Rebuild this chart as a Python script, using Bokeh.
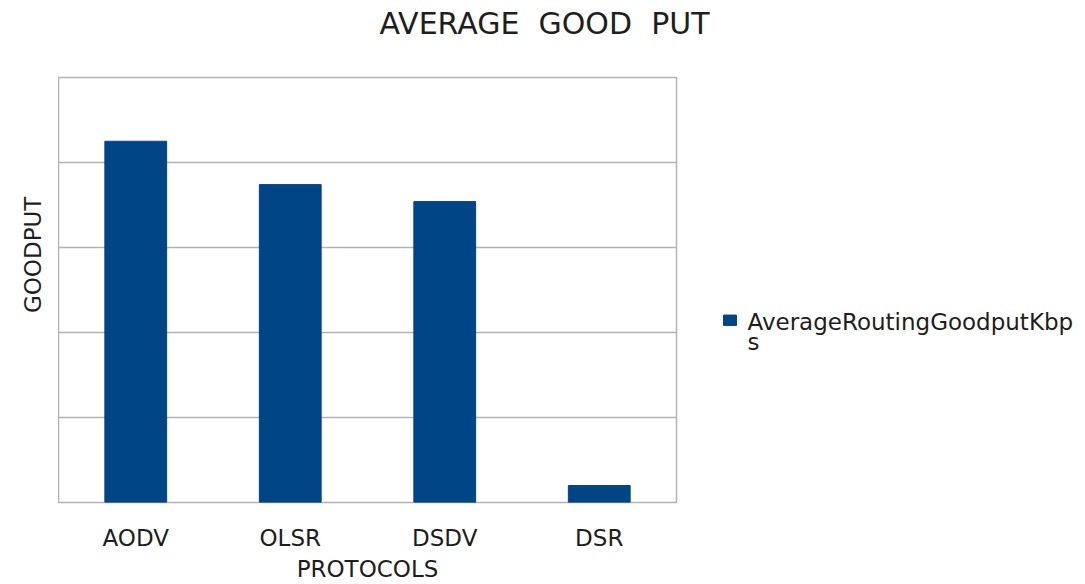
import math

from bokeh.plotting import figure
from bokeh.layouts import row, column
from bokeh.models import ColumnDataSource, FixedTicker, Range1d
from bokeh.core.properties import value
from bokeh.embed import file_html
from bokeh.resources import INLINE

# Average goodput per routing protocol
protocols = ["AODV", "OLSR", "DSDV", "DSR"]
goodput_kbps = [4.25, 3.74, 3.54, 0.20]
series_name = "AverageRoutingGoodputKbps"
chart_title = "AVERAGE\u00a0 GOOD\u00a0 PUT"
x_title = "PROTOCOLS"
y_title = "GOODPUT"
grid_ticks = [1, 2, 3, 4]

FONT = "DejaVu Sans"
TEXT = "#1e1e1e"
GRID = "#b3b3b3"
BAR = "#004586"

# page grid: header strip on top, then y-title strip | chart | legend strip
PAGE_W, PAGE_H = 1085, 584
HEAD_H = 50
BODY_H = PAGE_H - HEAD_H
YT_W = 58
CHART_W = 662
LEG_W = PAGE_W - YT_W - CHART_W

# text anchors inside the side strips (pixels, y growing upward)
TITLE_BASE_Y = 27
YTITLE_X, YTITLE_Y = 32, 238
SWATCH_Y = 229
LABEL_Y = [227, 202]


def blank(width, height):
    """An axis-free figure whose data units are pixels, y growing upward."""
    f = figure(width=width, height=height, title=None,
               x_range=Range1d(0, width), y_range=Range1d(0, height),
               x_axis_location=None, y_axis_location=None,
               output_backend="svg", toolbar_location=None, min_border=0,
               outline_line_color=None, background_fill_color="white",
               border_fill_color="white")
    f.grid.visible = False
    return f


# ---- main bar chart ----
src = ColumnDataSource(data=dict(protocol=protocols, goodput=goodput_kbps))

p = figure(
    x_range=protocols,
    y_range=Range1d(0, 5),
    width=CHART_W,
    height=BODY_H,
    title=None,
    output_backend="svg",
    toolbar_location=None,
    min_border_left=0,
    min_border_right=44,
    min_border_top=27,
    min_border_bottom=82,
    background_fill_color="white",
    border_fill_color="white",
)

p.vbar(x="protocol", top="goodput", width=0.4, source=src,
       fill_color=BAR, line_color=BAR)

p.outline_line_color = GRID
p.outline_line_width = 1.5
p.xgrid.grid_line_color = None
p.yaxis.visible = False
p.ygrid.ticker = FixedTicker(ticks=grid_ticks)
p.ygrid.grid_line_color = GRID
p.ygrid.grid_line_width = 1.5

xa = p.xaxis[0]
xa.axis_line_color = None
xa.major_tick_line_color = None
xa.minor_tick_line_color = None
xa.major_tick_out = 0
xa.major_tick_in = 0
xa.major_label_standoff = 22
xa.major_label_text_font = FONT
xa.major_label_text_font_size = "23px"
xa.major_label_text_color = TEXT
xa.axis_label = x_title
xa.axis_label_text_font = FONT
xa.axis_label_text_font_size = "23px"
xa.axis_label_text_font_style = "normal"
xa.axis_label_text_color = TEXT
xa.axis_label_standoff = 2

# ---- header with the chart title ----
head = blank(PAGE_W, HEAD_H)
head.text(x=[379], y=[TITLE_BASE_Y], text=[chart_title],
          text_align="left", text_baseline="alphabetic",
          text_font=value(FONT), text_font_size="30px", text_color=TEXT)

# ---- rotated value-axis title ----
ytf = blank(YT_W, BODY_H)
ytf.text(x=[YTITLE_X], y=[YTITLE_Y], text=[y_title], angle=math.pi / 2,
         text_align="left", text_baseline="alphabetic",
         text_font=value(FONT), text_font_size="23px", text_color=TEXT)

# ---- legend ----
leg = blank(LEG_W, BODY_H)
leg_x0 = PAGE_W - LEG_W
leg.rect(x=[723 - leg_x0 + 6.5], y=[SWATCH_Y], width=13, height=13,
         fill_color=BAR, line_color=BAR)
label_lines = [series_name[:24], series_name[24:]]
leg.text(x=[747 - leg_x0] * 2, y=LABEL_Y,
         text=label_lines, text_align="left", text_baseline="alphabetic",
         text_font=value(FONT), text_font_size="23px", text_color=TEXT)

layout = column(head, row(ytf, p, leg, spacing=0), spacing=0)
open("out.html", "w").write(file_html(layout, INLINE))
